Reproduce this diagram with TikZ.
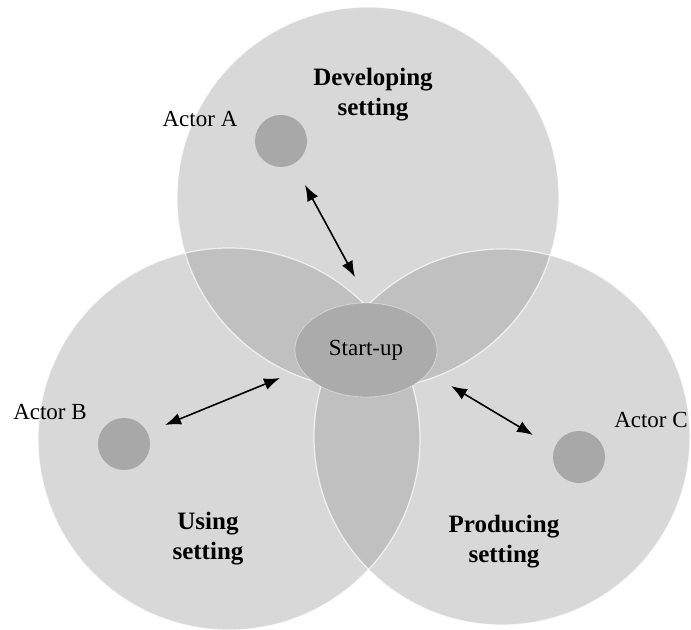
\documentclass[tikz,border=0pt]{standalone}
\usepackage{fontspec}
\setmainfont{Liberation Serif}
\usetikzlibrary{arrows.meta,shapes.geometric}

\definecolor{actorgray}{HTML}{A8A8A8}
\definecolor{startgray}{HTML}{ABABAB}
\definecolor{settinggray}{HTML}{9A9A9A}

\begin{document}
\begin{tikzpicture}[x=0.5pt,y=-0.5pt,>={Latex[length=8pt,width=6pt]},
    setting/.style={fill=settinggray,fill opacity=0.385},
    rim/.style={draw=white,line width=0.6pt,draw opacity=0.7},
    actor/.style={circle,fill=actorgray,minimum size=26pt,inner sep=0pt},
    actorlabel/.style={font=\fontsize{11.5}{13.5}\selectfont},
    settinglabel/.style={font=\fontsize{12.5}{15}\selectfont\bfseries,align=center}]

    \useasboundingbox (0,0) rectangle (691,630);

    % Middelpunten van de drie settings
    \coordinate (dev) at (368,198);
    \coordinate (use) at (229,439);
    \coordinate (prod) at (502,437);

    % Cirkels (overlap wordt vanzelf donkerder)
    \fill[setting] (dev) circle (95.5pt);
    \fill[setting] (use) circle (95.5pt);
    \fill[setting] (prod) circle (94pt);

    % Witte randen
    \draw[rim] (dev) circle (95.5pt);
    \draw[rim] (use) circle (95.5pt);
    \draw[rim] (prod) circle (94pt);

    % Start-up in het midden
    \node[ellipse, fill=startgray, draw=white, draw opacity=0.4,
          minimum width=71pt, minimum height=47pt, inner sep=0pt,
          actorlabel] (startup) at (366,350) {Start-up};

    % Actoren
    \node[actor] (actorA) at (281,141) {};
    \node[actor] (actorB) at (124,444) {};
    \node[actor] (actorC) at (579,457) {};

    % Labels
    \node[actorlabel] (labA) at (200,119) {Actor A};
    \node[actorlabel] (labB) at (50,412) {Actor B};
    \node[actorlabel] (labC) at (651,420) {Actor C};
    \node[settinglabel] (labdev) at (373,95) {Developing\\setting};
    \node[settinglabel] (labuse) at (208,539) {Using\\setting};
    \node[settinglabel] (labprod) at (504,542) {Producing\\setting};

    % Uiteinden van de pijlen
    \coordinate (aA) at (305,185);
    \coordinate (sA) at (355,277);
    \coordinate (aB) at (165,425);
    \coordinate (sB) at (280,378);
    \coordinate (aC) at (533,435);
    \coordinate (sC) at (451,386);

    % Wisselwerking actor <-> start-up
    \draw[<->, line width=0.8pt] (aA) -- (sA);
    \draw[<->, line width=0.8pt] (aB) -- (sB);
    \draw[<->, line width=0.8pt] (aC) -- (sC);

\end{tikzpicture}
\end{document}
